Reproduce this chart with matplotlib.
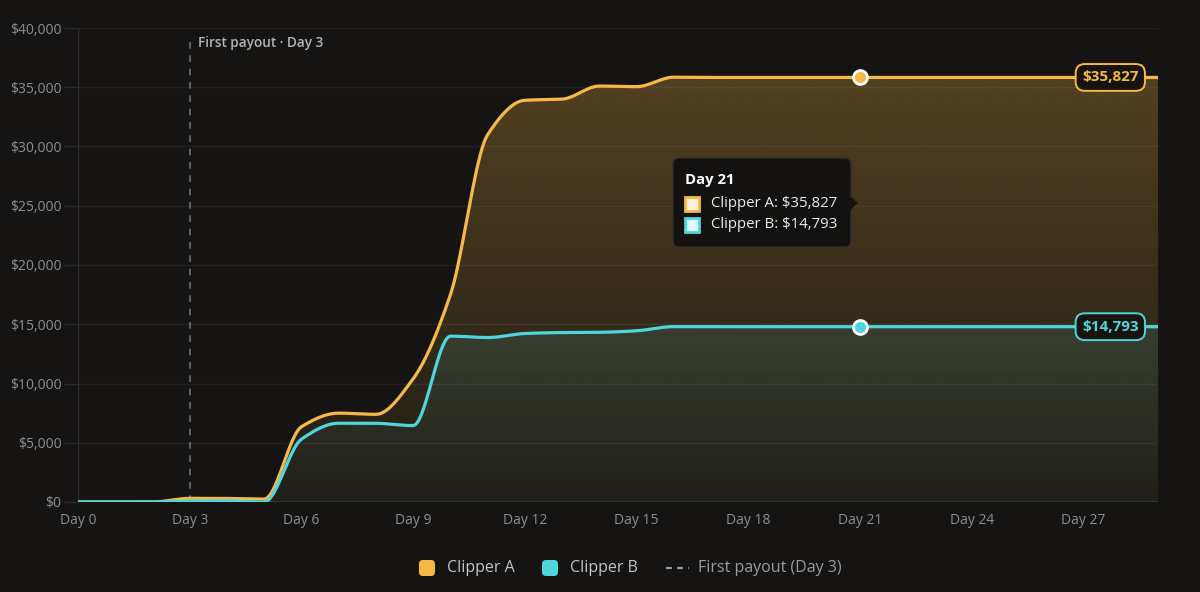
import numpy as np
import matplotlib
matplotlib.use("Agg")
import matplotlib.pyplot as plt
from matplotlib.patches import FancyBboxPatch, Polygon, Rectangle
from matplotlib.lines import Line2D
from matplotlib.transforms import IdentityTransform

plt.rcParams['font.family'] = ['Open Sans', 'DejaVu Sans']

# ---------------- data ----------------
days = list(range(0, 30))
clipper_a = [0, 0, 0, 310, 300, 250, 6350, 7500, 7400, 10400, 17500, 31000, 33900,
             34000, 35100, 35050, 35850, 35827, 35827, 35827, 35827, 35827, 35827,
             35827, 35827, 35827, 35827, 35827, 35827, 35827]
clipper_b = [0, 0, 0, 80, 100, 0, 5300, 6650, 6640, 6450, 14000, 13880, 14220,
             14300, 14320, 14450, 14800, 14793, 14793, 14793, 14793, 14793, 14793,
             14793, 14793, 14793, 14793, 14793, 14793, 14793]
y_ticks = [0, 5000, 10000, 15000, 20000, 25000, 30000, 35000, 40000]
x_ticks = [0, 3, 6, 9, 12, 15, 18, 21, 24, 27]
payout_day = 3
hover_day = 21
series_names = ["Clipper A", "Clipper B"]

BG = "#151413"
ORANGE = "#f6b846"
CYAN = "#4fd5dc"
W, H = 1200, 592


def monotone(x, y, n=20):
    """Monotone cubic (Fritsch-Carlson) curve through the points, for drawing."""
    x = np.asarray(x, float)
    y = np.asarray(y, float)
    h = np.diff(x)
    d = np.diff(y) / h
    m = np.zeros_like(y)
    m[0], m[-1] = d[0], d[-1]
    for i in range(1, len(y) - 1):
        if d[i - 1] * d[i] <= 0:
            m[i] = 0
        else:
            m[i] = 3 * (h[i - 1] + h[i]) / ((2 * h[i] + h[i - 1]) / d[i - 1] + (h[i] + 2 * h[i - 1]) / d[i])
    xs, ys = [], []
    for i in range(len(x) - 1):
        t = np.linspace(0, 1, n, endpoint=False)
        h00 = 2 * t**3 - 3 * t**2 + 1
        h10 = t**3 - 2 * t**2 + t
        h01 = -2 * t**3 + 3 * t**2
        h11 = t**3 - t**2
        xs.append(x[i] + t * h[i])
        ys.append(h00 * y[i] + h10 * h[i] * m[i] + h01 * y[i + 1] + h11 * h[i] * m[i + 1])
    xs.append([x[-1]])
    ys.append([y[-1]])
    return np.concatenate(xs), np.concatenate(ys)


fig = plt.figure(figsize=(W / 100, H / 100), dpi=100, facecolor=BG)
ax = fig.add_axes([78 / W, 1 - 502 / H, (1158 - 78) / W, (502 - 28) / H])
ax.set_facecolor(BG)
ax.set_xlim(0, 29)
ax.set_ylim(0, 40000)


def grad_fill(xs, ys, color, a_top, a_bot, top_val, z):
    rgb = matplotlib.colors.to_rgb(color)
    ny = 256
    yy = np.linspace(0, 40000, ny)
    alpha = np.clip(a_bot + (a_top - a_bot) * yy / top_val, 0, 1)
    img = np.zeros((ny, 2, 4))
    img[..., 0], img[..., 1], img[..., 2] = rgb
    img[..., 3] = alpha[:, None]
    im = ax.imshow(img, extent=[0, 29, 0, 40000], origin='lower', aspect='auto',
                   interpolation='bilinear', zorder=z)
    verts = np.column_stack([np.concatenate([xs, [xs[-1], xs[0]]]),
                             np.concatenate([ys, [0, 0]])])
    poly = Polygon(verts, closed=True, transform=ax.transData, facecolor='none', edgecolor='none')
    ax.add_patch(poly)
    im.set_clip_path(poly)


xa, ya = monotone(days, clipper_a)
xb, yb = monotone(days, clipper_b)
grad_fill(xa, ya, ORANGE, 0.27, 0.05, max(clipper_a), 1)
grad_fill(xb, yb, CYAN, 0.12, 0.02, max(clipper_b), 2)

# grid
for yv in y_ticks[1:]:
    ax.axhline(yv, color="#ffffff", alpha=0.06, lw=1, zorder=3)
ax.axhline(0, color="#3a3a3a", lw=1.2, zorder=3)
ax.axvline(0, color="#2c2c2c", lw=1, zorder=3)

# payout line
ax.plot([payout_day, payout_day], [0, 39300], color="#707070", lw=1.2,
        dashes=(4, 4), zorder=4)
ax.text(payout_day + 0.22, 39300, "First payout · Day 3", color="#b3b3b3",
        fontsize=9.8, fontweight='semibold', va='top', ha='left', zorder=6)

# lines
ax.plot(xa, ya, color=ORANGE, lw=2.3, zorder=5, solid_capstyle='round')
ax.plot(xb, yb, color=CYAN, lw=2.3, zorder=5, solid_capstyle='round')

# hover markers
ax.plot([hover_day], [clipper_a[hover_day]], 'o', ms=10, mfc=ORANGE, mec='white', mew=2, zorder=7)
ax.plot([hover_day], [clipper_b[hover_day]], 'o', ms=10, mfc=CYAN, mec='white', mew=2, zorder=7)

# end labels
for vals, col in ((clipper_a, ORANGE), (clipper_b, CYAN)):
    ax.text(27.72, vals[-1], f"${vals[-1]:,}", color=col, fontsize=11, fontweight='bold',
            ha='center', va='center', zorder=8,
            bbox=dict(boxstyle='round,pad=0.42,rounding_size=0.6', fc="#17130f", ec=col, lw=1.4))

# axes styling
ax.set_yticks(y_ticks)
ax.set_yticklabels([f"${v:,}" for v in y_ticks])
ax.set_xticks(x_ticks)
ax.set_xticklabels([f"Day {d}" for d in x_ticks])
ax.tick_params(axis='y', length=10, width=1, color="#2a2a2a", labelcolor="#8e8e8e",
               labelsize=10, pad=2)
ax.tick_params(axis='x', length=0, labelcolor="#8e8e8e", labelsize=10, pad=8)
for s in ax.spines.values():
    s.set_visible(False)


# ---------------- tooltip (pixel coords) ----------------
def P(x, y):
    return (x, H - y)


tip = FancyBboxPatch(P(673, 247), 178, 89, boxstyle='round,pad=0,rounding_size=6',
                     transform=IdentityTransform(), fc="#141210", ec="#33302b", lw=1,
                     zorder=20)
fig.add_artist(tip)
arrow = Polygon([P(850, 196), P(858, 203), P(850, 210)], closed=True,
                transform=IdentityTransform(), fc="#141210", ec='none', zorder=21)
fig.add_artist(arrow)
fig.text(685 / W, 1 - 180 / H, f"Day {hover_day}", color="white", fontsize=10.7,
         fontweight='bold', va='center', ha='left', zorder=22)
rows = [(series_names[0], clipper_a[hover_day], ORANGE, "#fdf1dc", 204),
        (series_names[1], clipper_b[hover_day], CYAN, "#dcfbfd", 225)]
for name, v, col, fill, yy in rows:
    sq = Rectangle(P(685, yy + 7), 14, 14, transform=IdentityTransform(), fc=fill, ec=col,
                   lw=2, zorder=22)
    fig.add_artist(sq)
    fig.text(711 / W, 1 - yy / H, f"{name}: ${v:,}", color="#ececec", fontsize=10.8,
             va='center', ha='left', zorder=22)

# ---------------- legend ----------------
ly = 568
for x0, col, label in ((419, ORANGE, series_names[0]), (542, CYAN, series_names[1])):
    sq = FancyBboxPatch(P(x0, ly + 8), 16, 16, boxstyle='round,pad=0,rounding_size=4',
                        transform=IdentityTransform(), fc=col, ec='none', zorder=22)
    fig.add_artist(sq)
    fig.text((x0 + 28) / W, 1 - ly / H, label, color="#c4c4c4", fontsize=11.5,
             va='center', ha='left')
fig.add_artist(Line2D([666, 689], [H - ly, H - ly], transform=IdentityTransform(),
                      color="#9a9a9a", lw=1.6, dashes=(2.6, 2.4)))
fig.text(698 / W, 1 - ly / H, "First payout (Day 3)", color="#9c9c9c", fontsize=11.5,
         va='center', ha='left')

fig.savefig("out.png", dpi=100, facecolor=BG)
